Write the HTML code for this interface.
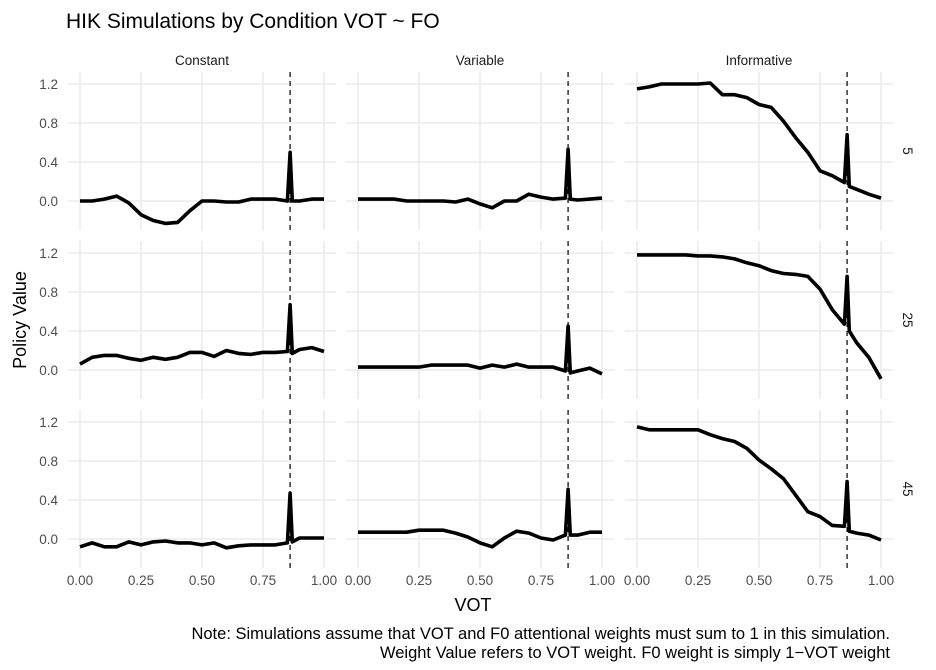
<!DOCTYPE html>
<html><head><meta charset="utf-8"><style>
body{margin:0;background:#fff;}
svg{display:block;font-family:"Liberation Sans",Arial,sans-serif;}
</style></head><body>
<svg id="c" width="936" height="670"></svg>
<script>
const vot=[0,0.05,0.1,0.15,0.2,0.25,0.3,0.35,0.4,0.45,0.5,0.55,0.6,0.65,0.7,0.75,0.8,0.85,0.861,0.87,0.9,0.95,1.0];
const conditions=["Constant","Variable","Informative"];
const rowLabels=["5","25","45"];
const xTicks=[0,0.25,0.5,0.75,1];
const xTickLabels=["0.00","0.25","0.50","0.75","1.00"];
const yTicks=[0,0.4,0.8,1.2];
const yTickLabels=["0.0","0.4","0.8","1.2"];
const cutoff=0.861;
const c5=[0,0,0.02,0.05,-0.02,-0.14,-0.2,-0.23,-0.22,-0.1,0,0,-0.01,-0.01,0.02,0.02,0.02,0,0.5,0,0,0.02,0.02];
const v5=[0.02,0.02,0.02,0.02,0,0,0,0,-0.01,0.02,-0.03,-0.07,0,0,0.07,0.04,0.02,0.03,0.53,0.02,0.01,0.02,0.03];
const i5=[1.15,1.17,1.2,1.2,1.2,1.2,1.21,1.09,1.09,1.06,0.99,0.96,0.82,0.65,0.5,0.31,0.26,0.19,0.68,0.15,0.12,0.07,0.03];
const c25=[0.06,0.13,0.15,0.15,0.12,0.1,0.13,0.11,0.13,0.18,0.18,0.14,0.2,0.17,0.16,0.18,0.18,0.19,0.67,0.17,0.21,0.23,0.19];
const v25=[0.03,0.03,0.03,0.03,0.03,0.03,0.05,0.05,0.05,0.05,0.02,0.05,0.03,0.06,0.03,0.03,0.03,-0.01,0.45,-0.03,-0.01,0.02,-0.04];
const i25=[1.18,1.18,1.18,1.18,1.18,1.17,1.17,1.16,1.14,1.1,1.07,1.02,0.99,0.98,0.96,0.83,0.62,0.47,0.96,0.4,0.28,0.13,-0.09];
const c45=[-0.08,-0.04,-0.08,-0.08,-0.03,-0.06,-0.03,-0.02,-0.04,-0.04,-0.06,-0.04,-0.09,-0.07,-0.06,-0.06,-0.06,-0.04,0.47,-0.03,0.01,0.01,0.01];
const v45=[0.07,0.07,0.07,0.07,0.07,0.09,0.09,0.09,0.06,0.02,-0.04,-0.08,0.01,0.08,0.06,0.01,-0.01,0.04,0.51,0.04,0.04,0.07,0.07];
const i45=[1.15,1.12,1.12,1.12,1.12,1.12,1.07,1.03,1.0,0.93,0.81,0.72,0.62,0.45,0.28,0.23,0.14,0.13,0.59,0.08,0.06,0.04,-0.01];
const series=[[c5,v5,i5],[c25,v25,i25],[c45,v45,i45]];

const svg=document.getElementById('c');
const NS='http://www.w3.org/2000/svg';
function mk(t,a,p){const e=document.createElementNS(NS,t);for(const k in a)e.setAttribute(k,a[k]);(p||svg).appendChild(e);return e;}
const colX0=[80,358,637], W=244;
const rowZero=[201,370,539], PY=97.5;
const xMin=-0.05,xMax=1.05,yMin=-0.297,yMax=1.323;
function sx(c,v){return colX0[c]+v*W;}
function sy(r,v){return rowZero[r]-v*PY;}

const t=mk('text',{x:66,y:28,'font-size':21,fill:'#000'});t.textContent='HIK Simulations by Condition VOT ~ FO';



for(let c=0;c<3;c++){
  const s=mk('text',{x:sx(c,0.5),y:65,'font-size':13.5,fill:'#1a1a1a','text-anchor':'middle'});s.textContent=conditions[c];
  
  
}
for(let r=0;r<3;r++){
  const yc=(sy(r,yMin)+sy(r,yMax))/2;
  const s=mk('text',{x:903,y:yc,'font-size':13.5,fill:'#1a1a1a','text-anchor':'middle',transform:`rotate(90 903 ${yc})`});s.textContent=rowLabels[r];
  
  
  for(let c=0;c<3;c++){
    const g=mk('g',{});
    
    
    const top=sy(r,yMax),bot=sy(r,yMin),left=sx(c,xMin),right=sx(c,xMax);
    yTicks.forEach(v=>{const l=mk('line',{x1:left,x2:right,y1:sy(r,v),y2:sy(r,v),stroke:'#ebebeb','stroke-width':1.6},g);
      });
    xTicks.forEach(v=>{const l=mk('line',{x1:sx(c,v),x2:sx(c,v),y1:top,y2:bot,stroke:'#ebebeb','stroke-width':1.6},g);
      });
    const d=mk('line',{x1:sx(c,cutoff),x2:sx(c,cutoff),y1:top,y2:bot,stroke:'#000','stroke-width':1.2,'stroke-dasharray':'5,4'},g);
    
    
    const vals=series[r][c];
    const pts=vot.map((x,i)=>sx(c,x).toFixed(1)+','+sy(r,vals[i]).toFixed(1)).join(' ');
    const pl=mk('polyline',{points:pts,fill:'none',stroke:'#000','stroke-width':3.6,'stroke-linejoin':'round'},g);
    
    
  }
  yTicks.forEach((v,i)=>{const tx=mk('text',{x:58,y:sy(r,v)+5,'font-size':13.5,fill:'#4d4d4d','text-anchor':'end'});tx.textContent=yTickLabels[i];
    });
}
for(let c=0;c<3;c++){
  xTicks.forEach((v,i)=>{const tx=mk('text',{x:sx(c,v),y:585,'font-size':13.5,fill:'#4d4d4d','text-anchor':'middle'});tx.textContent=xTickLabels[i];
    });
}
const xt=mk('text',{x:473,y:611,'font-size':18,fill:'#000','text-anchor':'middle'});xt.textContent='VOT';


const yt=mk('text',{x:26,y:320,'font-size':18,fill:'#000','text-anchor':'middle',transform:'rotate(-90 26 320)'});yt.textContent='Policy Value';


const n1=mk('text',{x:890,y:639,'font-size':16.5,fill:'#000','text-anchor':'end'});n1.textContent='Note: Simulations assume that VOT and F0 attentional weights must sum to 1 in this simulation.';


const n2=mk('text',{x:890,y:658,'font-size':16.5,fill:'#000','text-anchor':'end'});n2.textContent='Weight Value refers to VOT weight. F0 weight is simply 1\u2212VOT weight';


</script>
</body></html>
